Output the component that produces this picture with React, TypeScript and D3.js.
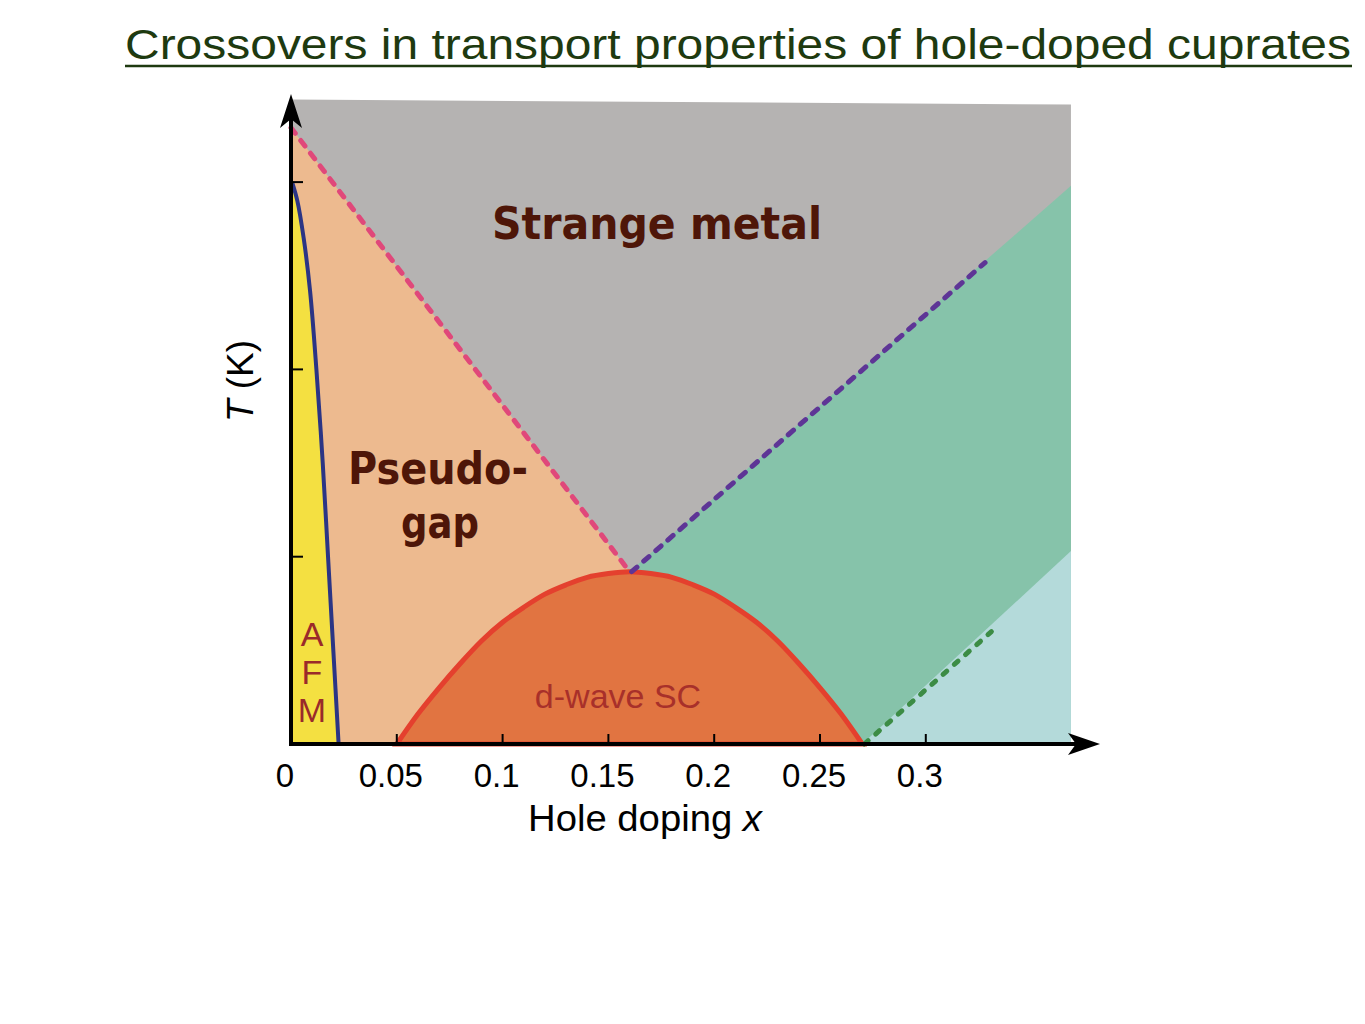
import React from "react";
import * as d3 from "d3";

// ---- data ----
const xTickValues = [0, 0.05, 0.1, 0.15, 0.2, 0.25, 0.3];
const xTickLabels = ["0", "0.05", "0.1", "0.15", "0.2", "0.25", "0.3"];
const yTickValues = [100, 200, 300];
const xMax = 0.3686;
const tTop = 343;

const pseudogapLine: [number, number][] = [[0, 329], [0.160, 92]];
const strangeToFLLine: [number, number][] = [[0.160, 92], [0.3686, 298]];
const purpleDashed: [number, number][] = [[0.161, 92], [0.328, 257]];
const overdopedLine: [number, number][] = [[0.270, 0], [0.3686, 103]];
const greenDotted: [number, number][] = [[0.271, 0], [0.331, 60]];
const domeX = [0.05, 0.06, 0.07, 0.08, 0.09, 0.10, 0.11, 0.12, 0.13, 0.14, 0.15, 0.16,
  0.17, 0.18, 0.19, 0.20, 0.21, 0.22, 0.23, 0.24, 0.25, 0.26, 0.27];
const domeTc = [0, 16, 30, 43, 55, 65, 73, 80, 85, 89, 91, 92,
  91, 89, 85, 80, 73, 65, 55, 43, 30, 16, 0];
const neelPoints: [number, number][] = [
  [0.0005, 300], [0.003, 290], [0.006, 270], [0.009, 242], [0.012, 200],
  [0.015, 150], [0.0175, 100], [0.02, 50], [0.0225, 0],
];

export default function App() {
  const W = 1365, H = 1024;
  const x = d3.scaleLinear().domain([0, 0.05]).range([291, 396.8]);
  const y = d3.scaleLinear().domain([0, 100]).range([744, 556.7]);
  const poly = (pts: [number, number][]) =>
    pts.map(([a, b]) => `${x(a)},${y(b)}`).join(" ");
  const line = d3.line<[number, number]>().x(d => x(d[0])).y(d => y(d[1]));
  const domeLine = d3.line<[number, number]>().x(d => x(d[0])).y(d => y(d[1])).curve(d3.curveMonotoneX);
  const neelLine = d3.line<[number, number]>().x(d => x(d[0])).y(d => y(d[1])).curve(d3.curveCatmullRom);
  const domePoints: [number, number][] = domeX.map((v, i) => [v, domeTc[i]]);

  const peach: [number, number][] = [[0, 0], [0, pseudogapLine[0][1]], pseudogapLine[1], [pseudogapLine[1][0], 0]];
  const green: [number, number][] = [strangeToFLLine[0], strangeToFLLine[1], [xMax, 0], [strangeToFLLine[0][0], 0]];
  const blue: [number, number][] = [overdopedLine[0], overdopedLine[1], [xMax, 0]];
  const yellowD = "M" + x(0) + "," + y(0) + " L" + x(0) + "," + y(300) + " " +
    (neelLine(neelPoints) || "").replace(/^M/, "L") + " Z";

  const axisFont = "Liberation Sans, Arial, sans-serif";
  const comic = "DejaVu Sans, sans-serif";

  return (
    <svg width={W} height={H} style={{ position: "absolute", left: 0, top: 0, background: "#fff" }}>
      {/* title */}
      <text x={738} y={59} textAnchor="middle" fontFamily={axisFont} fontSize={43} fill="#1E3A10"
        textLength={1226} lengthAdjust="spacingAndGlyphs">
        Crossovers in transport properties of hole-doped cuprates
      </text>
      <line x1={125} x2={1352} y1={66} y2={66} stroke="#1E3A10" strokeWidth={2.5} />

      {/* regions */}
      <polygon points={`${x(0)},${y(tTop) - 2} ${x(xMax)},${y(tTop) + 3} ${x(xMax)},${y(0)} ${x(0)},${y(0)}`} fill="#B5B3B2" />
      <polygon points={poly(peach)} fill="#EDBA8F" />
      <polygon points={poly(green)} fill="#86C3AA" />
      <polygon points={poly(blue)} fill="#B4DADA" />
      <path d={yellowD} fill="#F4E041" />
      <path d={(domeLine(domePoints) || "") + " Z"} fill="#E17441" stroke="#E4402E" strokeWidth={5} />
      <path d={neelLine(neelPoints) || ""} fill="none" stroke="#2B3585" strokeWidth={4} />

      {/* crossover lines */}
      <path d={line(pseudogapLine) || ""} stroke="#E0487A" strokeWidth={5} strokeDasharray="7 9" strokeLinecap="round" fill="none" />
      <path d={line(purpleDashed) || ""} stroke="#5E3596" strokeWidth={5} strokeDasharray="7 9" strokeLinecap="round" fill="none" />
      <path d={line(greenDotted) || ""} stroke="#3C8C45" strokeWidth={5} strokeDasharray="5 10" strokeLinecap="round" fill="none" />

      {/* axes */}
      <line x1={x(0)} x2={1090} y1={y(0)} y2={y(0)} stroke="#000" strokeWidth={4} />
      <path d={`M1100,${y(0)} L1068,${y(0) - 11} L1076,${y(0)} L1068,${y(0) + 11} Z`} fill="#000" />
      <line x1={x(0)} x2={x(0)} y1={y(0) + 2} y2={110} stroke="#000" strokeWidth={4} />
      <path d={`M${x(0)},94 L${x(0) - 11},128 L${x(0)},119 L${x(0) + 11},128 Z`} fill="#000" />
      {xTickValues.slice(1).map(v => (
        <line key={v} x1={x(v)} x2={x(v)} y1={y(0)} y2={y(0) - 10} stroke="#000" strokeWidth={2} />
      ))}
      {yTickValues.map(v => (
        <line key={v} x1={x(0)} x2={x(0) + 12} y1={y(v)} y2={y(v)} stroke="#000" strokeWidth={2} />
      ))}
      {xTickValues.map((v, i) => (
        <text key={v} x={x(v) - 6} y={787} textAnchor="middle" fontFamily={axisFont} fontSize={33} fill="#000">
          {xTickLabels[i]}
        </text>
      ))}
      <text x={645} y={831} textAnchor="middle" fontFamily={axisFont} fontSize={36} fill="#000"
        textLength={234} lengthAdjust="spacingAndGlyphs">
        Hole doping <tspan fontStyle="italic">x</tspan>
      </text>
      <text transform="translate(253,381) rotate(-90)" textAnchor="middle" fontFamily={axisFont} fontSize={37} fill="#000">
        <tspan fontStyle="italic">T</tspan> (K)
      </text>

      {/* region labels */}
      <text x={657} y={239} textAnchor="middle" fontFamily={comic} fontWeight="bold" fontSize={44} fill="#4E1608"
        textLength={330} lengthAdjust="spacingAndGlyphs">Strange metal</text>
      <text x={438} y={484} textAnchor="middle" fontFamily={comic} fontWeight="bold" fontSize={44} fill="#4E1608"
        textLength={180} lengthAdjust="spacingAndGlyphs">Pseudo-</text>
      <text x={440} y={538} textAnchor="middle" fontFamily={comic} fontWeight="bold" fontSize={44} fill="#4E1608"
        textLength={78} lengthAdjust="spacingAndGlyphs">gap</text>
      {["A", "F", "M"].map((c, i) => (
        <text key={c} x={312} y={646 + i * 38} textAnchor="middle" fontFamily={axisFont} fontSize={34} fill="#9A2A2A">{c}</text>
      ))}
      <text x={618} y={708} textAnchor="middle" fontFamily={axisFont} fontSize={34} fill="#A8302A">d-wave SC</text>
    </svg>
  );
}
